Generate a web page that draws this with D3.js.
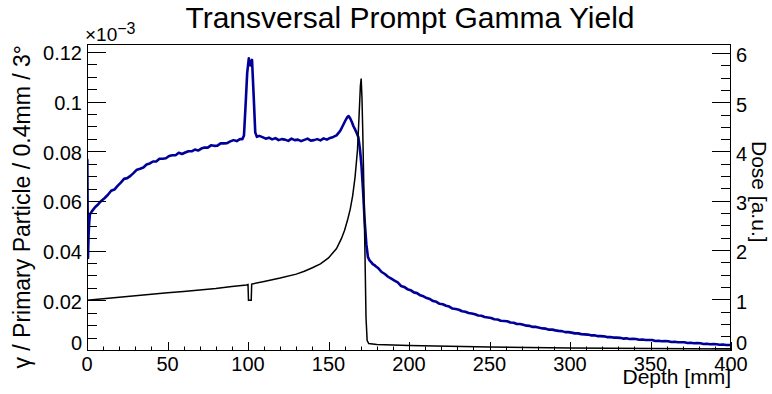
<!DOCTYPE html>
<html>
<head>
<meta charset="utf-8">
<script src="https://cdn.jsdelivr.net/npm/d3@7"></script>
<style>
  html, body { margin: 0; padding: 0; background: #fff; }
  svg { display: block; font-family: "Liberation Sans", Arial, Helvetica, sans-serif; }
</style>
</head>
<body>
<svg id="chart" width="772" height="394"></svg>
<script>
// ---------------- DATA ----------------
const title = "Transversal Prompt Gamma Yield";
const xTitle = "Depth [mm]";
const yTitle = "γ / Primary Particle / 0.4mm / 3°";
const y2Title = "Dose [a.u.]";

const xTicks = [0, 50, 100, 150, 200, 250, 300, 350, 400];
const xTickLabels = ["0", "50", "100", "150", "200", "250", "300", "350", "400"];
const yTicks = [0, 0.02, 0.04, 0.06, 0.08, 0.1, 0.12];           // ×10^-3
const yTickLabels = ["0", "0.02", "0.04", "0.06", "0.08", "0.1", "0.12"];
const y2Ticks = [0, 1, 2, 3, 4, 5, 6];
const y2TickLabels = ["0", "1", "2", "3", "4", "5", "6"];

// Prompt gamma yield histogram (×10^-3), bin left edges (mm)
const gammaDepth = [0, 0.4, 0.8, 1.2, 1.6]
  .concat(d3.range(2, 96, 2), d3.range(96, 106, 1), d3.range(106, 156, 2),
          d3.range(156, 180, 1), d3.range(180, 400, 2));
const gammaValue = [
  0.0770, 0.0375, 0.0470, 0.0520, 0.0550,
  // 2 .. 94 (2 mm)
  0.0562, 0.0579, 0.0591, 0.0605, 0.0616, 0.0629, 0.0645, 0.0650, 0.0665, 0.0678,
  0.0693, 0.0696, 0.0705, 0.0717, 0.0730, 0.0734, 0.0739, 0.0751, 0.0755, 0.0763,
  0.0763, 0.0774, 0.0774, 0.0776, 0.0785, 0.0788, 0.0788, 0.0798, 0.0793, 0.0799,
  0.0804, 0.0804, 0.0811, 0.0807, 0.0815, 0.0819, 0.0819, 0.0828, 0.0826, 0.0827,
  0.0836, 0.0836, 0.0837, 0.0844, 0.0849, 0.0845, 0.0853,
  // 96 .. 105 (1 mm)
  0.0853, 0.0868, 0.0990, 0.1120, 0.1178, 0.1150, 0.1172, 0.1030, 0.0880, 0.0862,
  // 106 .. 154 (2 mm)
  0.0866, 0.0861, 0.0855, 0.0859, 0.0852, 0.0857, 0.0849, 0.0853, 0.0851, 0.0846,
  0.0855, 0.0849, 0.0851, 0.0845, 0.0850, 0.0855, 0.0847, 0.0849, 0.0853, 0.0848,
  0.0856, 0.0851, 0.0858, 0.0862, 0.0868,
  // 156 .. 179 (1 mm)
  0.0880, 0.0889, 0.0902, 0.0915, 0.0928, 0.0940, 0.0946, 0.0936, 0.0922, 0.0905,
  0.0892, 0.0878, 0.0862, 0.0815, 0.0745, 0.0640, 0.0520, 0.0430, 0.0378, 0.0365,
  0.0358, 0.0350, 0.0346, 0.0340,
  // 180 .. 398 (2 mm)
  0.0333, 0.0318, 0.0310, 0.0299, 0.0291, 0.0283, 0.0276, 0.0262, 0.0258, 0.0249,
  0.0245, 0.0236, 0.0233, 0.0224, 0.0220, 0.0213, 0.0209, 0.0201, 0.0198, 0.0190,
  0.0188, 0.0182, 0.0179, 0.0171, 0.0169, 0.0166, 0.0160, 0.0158, 0.0153, 0.0151,
  0.0148, 0.0143, 0.0142, 0.0137, 0.0135, 0.0133, 0.0128, 0.0127, 0.0122, 0.0121,
  0.0120, 0.0115, 0.0114, 0.0109, 0.0109, 0.0106, 0.0102, 0.0101, 0.0097, 0.0097,
  0.0094, 0.0091, 0.0090, 0.0086, 0.0086, 0.0083, 0.0081, 0.0080, 0.0076, 0.0076,
  0.0074, 0.0071, 0.0071, 0.0068, 0.0067, 0.0066, 0.0063, 0.0063, 0.0060, 0.0060,
  0.0059, 0.0056, 0.0056, 0.0054, 0.0054, 0.0053, 0.0050, 0.0051, 0.0048, 0.0049,
  0.0048, 0.0045, 0.0046, 0.0044, 0.0044, 0.0044, 0.0040, 0.0041, 0.0039, 0.0040,
  0.0039, 0.0036, 0.0037, 0.0035, 0.0035, 0.0035, 0.0032, 0.0033, 0.0031, 0.0032,
  0.0031, 0.0028, 0.0029, 0.0027, 0.0028, 0.0027, 0.0025, 0.0026, 0.0024, 0.0024
];

// Dose profile (a.u., right axis)
const doseDepth = [0, 10, 20, 30, 40, 50, 60, 70, 80, 90, 99, 100, 100.3, 102.0, 102.3,
  110, 120, 130, 135, 140, 145, 150, 155, 158, 160, 162, 163.5, 165, 166.5, 168, 169,
  169.8, 170.3, 170.8, 171.3, 172, 172.7, 173.3, 174, 175, 180, 200, 250, 300, 350, 400];
const doseValue = [1.00, 1.03, 1.06, 1.09, 1.12, 1.15, 1.18, 1.21, 1.24, 1.28, 1.31, 1.32, 1.00, 1.00, 1.33,
  1.38, 1.45, 1.53, 1.59, 1.66, 1.74, 1.86, 2.05, 2.25, 2.42, 2.65, 2.85, 3.12, 3.50, 4.05, 4.75,
  5.35, 5.50, 5.10, 4.40, 3.20, 1.85, 0.65, 0.18, 0.12, 0.10, 0.08, 0.05, 0.03, 0.02, 0.01];

// ---------------- LAYOUT ----------------
const L = 87, R = 731, T = 44, B = 351;
const svg = d3.select("#chart");

const x = d3.scaleLinear().domain([0, 400]).range([L, R]);
const yL = d3.scaleLinear().domain([0, 0.1236]).range([B, T]);
const yR = d3.scaleLinear().domain([-0.0305, 6.203]).range([B, T]);

svg.append("clipPath").attr("id", "clip")
  .append("rect").attr("x", L).attr("y", T).attr("width", R - L).attr("height", B - T);

// Title
svg.append("text").attr("x", 410).attr("y", 28).attr("text-anchor", "middle")
  .attr("font-size", 30).text(title);

// Gamma yield curve (bin centres)
const gammaData = [{ x: 0, y: gammaValue[0] }].concat(gammaDepth.map((d, i) => {
  const next = i + 1 < gammaDepth.length ? gammaDepth[i + 1] : 400;
  return { x: (d + next) / 2, y: gammaValue[i] };
}));
gammaData.push({ x: 400, y: gammaValue[gammaValue.length - 1] });
const gammaLine = d3.line().x(d => x(d.x)).y(d => yL(d.y));
svg.append("path").attr("clip-path", "url(#clip)")
  .attr("d", gammaLine(gammaData))
  .attr("fill", "none").attr("stroke", "#000099").attr("stroke-width", 2.6)
  .attr("stroke-linejoin", "round");

// Dose curve
const doseData = doseDepth.map((d, i) => ({ x: d, y: doseValue[i] }));
const doseLine = d3.line().x(d => x(d.x)).y(d => yR(d.y));
svg.append("path").attr("clip-path", "url(#clip)")
  .attr("d", doseLine(doseData))
  .attr("fill", "none").attr("stroke", "#000").attr("stroke-width", 1.5);

// Frame
svg.append("rect").attr("x", L + 0.5).attr("y", T + 0.5)
  .attr("width", R - L - 1).attr("height", B - T - 1)
  .attr("fill", "none").attr("stroke", "#000").attr("stroke-width", 1);

const g = svg.append("g").attr("stroke", "#000").attr("stroke-width", 1);

// X ticks (inward)
d3.range(0, 401, 10).forEach(v => {
  const major = v % 50 === 0;
  const px = Math.round(x(v)) + 0.5;
  g.append("line").attr("x1", px).attr("x2", px)
    .attr("y1", B).attr("y2", B - (major ? 9 : 4.5));
});
// Left ticks (inward)
d3.range(0, 0.1236, 0.005).forEach((v, i) => {
  const major = i % 4 === 0;
  const py = Math.round(yL(v)) - 0.5;
  g.append("line").attr("x1", L).attr("x2", L + (major ? 19 : 10))
    .attr("y1", py).attr("y2", py);
});
// Right axis ticks (inward)
d3.range(0, 6.2, 0.25).forEach((v, i) => {
  const major = i % 4 === 0;
  const py = Math.round(yR(v)) - 0.5;
  g.append("line").attr("x1", R).attr("x2", R - (major ? 19 : 10))
    .attr("y1", py).attr("y2", py);
});

// Tick labels
const fs = 20;
xTicks.forEach((v, i) => {
  svg.append("text").attr("x", x(v)).attr("y", 371).attr("text-anchor", "middle")
    .attr("font-size", fs).text(xTickLabels[i]);
});
yTicks.forEach((v, i) => {
  const base = v === 0 ? B - 1 : yL(v) + 7.5;
  svg.append("text").attr("x", 82).attr("y", base).attr("text-anchor", "end")
    .attr("font-size", fs).text(yTickLabels[i]);
});
y2Ticks.forEach((v, i) => {
  const base = v === 0 ? B - 1 : yR(v) + 8.5;
  svg.append("text").attr("x", 736).attr("y", base).attr("text-anchor", "start")
    .attr("font-size", fs).text(y2TickLabels[i]);
});

// Exponent
const ex = svg.append("text").attr("x", 85).attr("y", 41).attr("font-size", 19);
ex.append("tspan").text("×10");
ex.append("tspan").attr("dy", -7).attr("font-size", 16).text("−3");

// Axis titles
svg.append("text").attr("x", R).attr("y", 384).attr("text-anchor", "end")
  .attr("font-size", 21).text(xTitle);
svg.append("text").attr("transform", `translate(30,${T + 1}) rotate(-90)`)
  .attr("text-anchor", "end").attr("font-size", 23).text(yTitle);
svg.append("text").attr("transform", `translate(752,141) rotate(90)`)
  .attr("text-anchor", "start").attr("font-size", 21).text(y2Title);
</script>
</body>
</html>
